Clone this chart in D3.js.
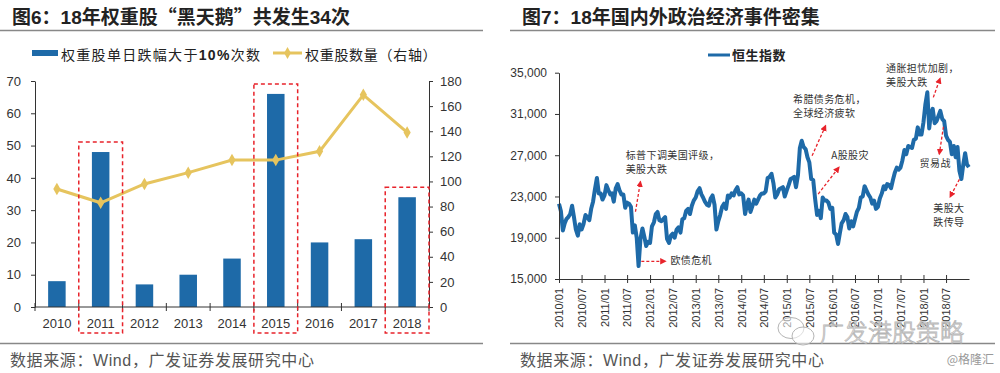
<!DOCTYPE html>
<html>
<head>
<meta charset="utf-8">
<script src="https://cdn.jsdelivr.net/npm/d3@7"></script>
<style>
  body { margin: 0; background: #fff; }
  svg { display: block; font-family: "Liberation Sans", "Noto Sans CJK SC", sans-serif; }
  .cjk { font-family: "Noto Sans CJK SC", sans-serif; }
</style>
</head>
<body>
<svg id="chart" width="1000" height="373"></svg>
<script>
// 图6 data
var years = ["2010", "2011", "2012", "2013", "2014", "2015", "2016", "2017", "2018"];
var bigDrops = [8, 48, 7, 10, 15, 66, 20, 21, 34];          // 权重股单日跌幅大于10%次数
var stockCount = [94, 83, 98, 107, 117, 117, 124, 169, 139]; // 权重股数量（右轴）
var boxedYears = ["2011", "2015", "2018"];
var leftTicks = [0, 10, 20, 30, 40, 50, 60, 70];
var rightTicks = [0, 20, 40, 60, 80, 100, 120, 140, 160, 180];

// 图7 data: 恒生指数, values on the 1st and 16th of every month
var hsiYears = [2010, 2011, 2012, 2013, 2014, 2015, 2016, 2017, 2018];
var hsi2010 = [22300, 21600, 19700, 20400, 20800, 21000, 21300, 22100, 21000, 19800, 19200, 20300,
               19800, 20300, 21200, 21000, 20700, 21800, 22500, 23700, 24800, 23300, 23300, 22700];
var hsi2011 = [23100, 24100, 23600, 23200, 23300, 22500, 23800, 24200, 23600, 23200, 23200, 21900,
               22400, 22300, 22000, 19500, 20200, 19000, 16250, 18900, 19900, 19100, 18200, 18600];
var hsi2012 = [18500, 20100, 20500, 21300, 21500, 20700, 20600, 20800, 21000, 18900, 18500, 19200,
               19400, 19000, 19800, 20000, 19500, 20800, 20900, 21600, 21800, 21300, 22100, 22600];
var hsi2013 = [22900, 23500, 23800, 23200, 22900, 22500, 22200, 22100, 22800, 23100, 22200, 19800,
               20600, 21200, 22000, 22300, 21800, 23100, 22900, 23300, 23100, 23600, 23900, 23200];
var hsi2014 = [23300, 23100, 21300, 22200, 22700, 21500, 22100, 22700, 22300, 22700, 23100, 23300,
               23300, 23500, 24800, 24900, 25200, 24300, 22900, 23200, 23700, 23800, 23900, 23000];
var hsi2015 = [23600, 24100, 24700, 24800, 24900, 23900, 25100, 27700, 28400, 27800, 27600, 26800,
               26300, 24700, 24600, 22800, 21200, 21600, 20900, 22900, 22600, 22600, 22400, 21800];
var hsi2016 = [21900, 19500, 19300, 18400, 19400, 20400, 20700, 21300, 21000, 19900, 20600, 20100,
               20800, 21500, 21900, 22900, 23000, 24000, 23600, 23200, 22900, 22300, 22600, 21800];
var hsi2017 = [22000, 22800, 23300, 24000, 23700, 24200, 24100, 23800, 24600, 25300, 25800, 25600,
               25800, 26500, 27500, 27100, 27900, 27800, 27700, 28500, 28600, 29700, 29000, 29000];
var hsi2018 = [30200, 31900, 33100, 29600, 31000, 31500, 30100, 30300, 30800, 31300, 30500, 30300,
               28900, 28500, 28300, 27100, 27900, 26800, 27800, 25500, 24700, 26100, 27200, 26100];
var hsiByYear = [hsi2010, hsi2011, hsi2012, hsi2013, hsi2014, hsi2015, hsi2016, hsi2017, hsi2018];
var hsiLastDate = "2018-12-31", hsiLast = 25845;
var hsiTicks = [15000, 19000, 23000, 27000, 31000, 35000];

// 图7 notes: text lines, text anchor, arrow start, arrow end (date, index level)
var noteTexts = [["标普下调美国评级，", "美股大跌"], ["欧债危机"], ["希腊债务危机，", "全球经济疲软"],
                 ["A股股灾"], ["通胀担忧加剧，", "美股大跌"], ["贸易战"], ["美股大", "跌传导"]];
var noteAt = [["2011-06-20", 26630], ["2012-06-12", 16450], ["2015-02-20", 32025], ["2015-12-23", 26630],
              ["2017-03-07", 35030], ["2017-12-01", 25824], ["2018-03-21", 21520]];
var arrowFrom = [["2011-09-06", 21520], ["2011-10-23", 16715], ["2015-07-23", 26950], ["2015-09-10", 23236],
                 ["2018-03-21", 32607], ["2018-06-10", 29758], ["2018-10-16", 24660]];
var arrowTo = [["2011-10-16", 24430], ["2012-05-03", 16715], ["2015-11-08", 29855], ["2016-02-23", 25824],
               ["2018-05-14", 34448], ["2018-05-08", 27112], ["2018-08-03", 22975]];

var blue = "#1e6aa8", gold = "#e6c45e", red = "#e8232b";
var svg = d3.select("#chart");
var parseDay = d3.timeParse("%Y-%m-%d");

svg.append("defs").append("marker")
    .attr("id", "arrow")
    .attr("viewBox", "0 0 10 10")
    .attr("refX", 8).attr("refY", 5)
    .attr("markerWidth", 5).attr("markerHeight", 5)
    .attr("orient", "auto")
  .append("path")
    .attr("d", "M0,0L10,5L0,10Z")
    .attr("fill", red);

// titles, rules and sources for both panels
function frame(x0, x1, tx, titleParts) {
  var t = svg.append("text")
      .attr("x", tx).attr("y", 24)
      .attr("font-size", 19).attr("font-weight", "bold").attr("fill", "#222");
  titleParts.forEach(function(p) {
    t.append("tspan").attr("class", p[1] ? null : "cjk").text(p[0]);
  });
  svg.append("line").attr("x1", x0).attr("x2", x1).attr("y1", 30.5).attr("y2", 30.5)
      .attr("stroke", "#888").attr("stroke-width", 1.5);
  svg.append("line").attr("x1", x0).attr("x2", x1).attr("y1", 343.5).attr("y2", 343.5)
      .attr("stroke", "#888").attr("stroke-width", 1.5);
  var s = svg.append("text").attr("x", tx - 2).attr("y", 366)
      .attr("font-size", 16).attr("fill", "#555").attr("letter-spacing", 0.6);
  s.append("tspan").attr("class", "cjk").text("数据来源：");
  s.append("tspan").text("Wind");
  s.append("tspan").attr("class", "cjk").text("，广发证券发展研究中心");
}
frame(0, 483, 12, [["图", 0], ["6", 1], ["：", 0], ["18", 1], ["年权重股“黑天鹅”共发生", 0], ["34", 1], ["次", 0]]);
frame(510, 995, 522, [["图", 0], ["7", 1], ["：", 0], ["18", 1], ["年国内外政治经济事件密集", 0]]);

// ---------- 图6 ----------
var xL = d3.scaleBand().domain(years).range([35, 429]).paddingInner(0.6).paddingOuter(0.3);
var yL = d3.scaleLinear().domain([0, 70]).range([307, 81]);
var yR = d3.scaleLinear().domain([0, 180]).range([307, 81]);
var step = xL.step(), bw = xL.bandwidth();

var left = svg.append("g");

left.selectAll("rect.bar")
    .data(years)
    .enter().append("rect")
      .attr("class", "bar")
      .attr("x", function(d) { return xL(d); })
      .attr("width", bw)
      .attr("y", function(d, i) { return yL(bigDrops[i]); })
      .attr("height", function(d, i) { return yL(0) - yL(bigDrops[i]); })
      .attr("fill", blue);

var line6 = d3.line()
    .x(function(d, i) { return xL(years[i]) + bw / 2; })
    .y(function(d) { return yR(d); });
left.append("path")
    .attr("d", line6(stockCount))
    .attr("fill", "none").attr("stroke", gold).attr("stroke-width", 3);
left.selectAll("path.dot")
    .data(stockCount)
    .enter().append("path")
      .attr("class", "dot")
      .attr("d", d3.symbol(d3.symbolDiamond, 45))
      .attr("transform", function(d, i) { return "translate(" + (xL(years[i]) + bw / 2) + "," + yR(d) + ")"; })
      .attr("fill", gold);

// y axes
var axL = left.append("g").attr("transform", "translate(35,0)")
    .call(d3.axisLeft(yL).tickValues(leftTicks).tickSize(4).tickSizeOuter(0).tickPadding(10));
var axR = left.append("g").attr("transform", "translate(429,0)")
    .call(d3.axisRight(yR).tickValues(rightTicks).tickSize(4).tickSizeOuter(0).tickPadding(7));
[axL, axR].forEach(function(a) {
  a.select(".domain").attr("stroke", "#333");
  a.selectAll(".tick line").attr("stroke", "#333");
  a.selectAll("text").attr("font-size", 13).attr("fill", "#333").attr("font-family", "Liberation Sans");
});

// x axis with crossing ticks on the category edges
var axB = left.append("g").attr("transform", "translate(0,307)")
    .call(d3.axisBottom(xL).tickSize(0).tickPadding(12));
axB.select(".domain").remove();
axB.selectAll("text").attr("font-size", 13).attr("fill", "#333").attr("font-family", "Liberation Sans");
left.append("line").attr("x1", 35).attr("x2", 429).attr("y1", 307).attr("y2", 307).attr("stroke", "#333");
left.selectAll("line.edge")
    .data(years.concat(["end"]))
    .enter().append("line")
      .attr("class", "edge")
      .attr("x1", function(d, i) { return xL(years[0]) + bw / 2 - step / 2 + i * step; })
      .attr("x2", function(d, i) { return xL(years[0]) + bw / 2 - step / 2 + i * step; })
      .attr("y1", 303).attr("y2", 311)
      .attr("stroke", "#333");

// red dashed boxes
left.selectAll("rect.box")
    .data(boxedYears)
    .enter().append("rect")
      .attr("class", "box")
      .attr("x", function(d) { return xL(d) + bw / 2 - step / 2; })
      .attr("width", step)
      .attr("y", function(d) { return yL(bigDrops[years.indexOf(d)]) - 10; })
      .attr("height", function(d) { return 333 - yL(bigDrops[years.indexOf(d)]) + 10; })
      .attr("fill", "none").attr("stroke", red).attr("stroke-width", 1.5)
      .attr("stroke-dasharray", "4,3");

// legend
left.append("rect").attr("x", 32).attr("y", 50).attr("width", 26).attr("height", 6).attr("fill", blue);
var lg1 = left.append("text").attr("x", 61).attr("y", 60).attr("font-size", 14).attr("fill", "#222")
    .attr("letter-spacing", 1.3);
lg1.append("tspan").attr("class", "cjk").text("权重股单日跌幅大于");
lg1.append("tspan").attr("font-weight", "bold").text("10%");
lg1.append("tspan").attr("class", "cjk").text("次数");
left.append("line").attr("x1", 273).attr("x2", 302).attr("y1", 53).attr("y2", 53)
    .attr("stroke", gold).attr("stroke-width", 3);
left.append("path").attr("d", d3.symbol(d3.symbolDiamond, 40))
    .attr("transform", "translate(287.5,53)").attr("fill", gold);
left.append("text").attr("class", "cjk").attr("x", 305).attr("y", 60).attr("font-size", 14)
    .attr("fill", "#222").attr("letter-spacing", 0.7).text("权重股数量（右轴）");

// ---------- 图7 ----------
var hsi = [];
hsiYears.forEach(function(yr, k) {
  hsiByYear[k].forEach(function(v, i) {
    hsi.push({ date: new Date(yr, Math.floor(i / 2), i % 2 ? 16 : 1), value: v });
  });
});
hsi.push({ date: parseDay(hsiLastDate), value: hsiLast });

var xT = d3.scaleTime().domain([new Date(2010, 0, 1), new Date(2019, 0, 1)]).range([559, 969]);
var yH = d3.scaleLinear().domain([15000, 35000]).range([279, 72.7]);

var right = svg.append("g");

right.append("path")
    .datum(hsi)
    .attr("d", d3.line().x(function(d) { return xT(d.date); }).y(function(d) { return yH(d.value); }))
    .attr("fill", "none").attr("stroke", blue).attr("stroke-width", 4).attr("stroke-linejoin", "round");

var axH = right.append("g").attr("transform", "translate(559,0)")
    .call(d3.axisLeft(yH).tickValues(hsiTicks).tickFormat(d3.format(",")).tickSize(4).tickSizeOuter(0).tickPadding(8));
axH.selectAll("text").attr("font-size", 12).attr("fill", "#333").attr("font-family", "Liberation Sans");

var monthTicks = d3.timeMonth.range(new Date(2010, 0, 1), new Date(2019, 0, 1), 6);
var axT = right.append("g").attr("transform", "translate(0,279)")
    .call(d3.axisBottom(xT).tickValues(monthTicks).tickFormat(d3.timeFormat("%Y/%m")).tickSizeOuter(0));
axT.selectAll(".tick line").attr("y1", -4).attr("y2", 4);
axT.selectAll("text")
    .attr("font-size", 11).attr("fill", "#333").attr("font-family", "Liberation Sans")
    .attr("text-anchor", "end")
    .attr("transform", "rotate(-90)")
    .attr("x", -9).attr("y", 0).attr("dy", "0.35em");
[axH, axT].forEach(function(a) {
  a.select(".domain").attr("stroke", "#333");
  a.selectAll(".tick line").attr("stroke", "#333");
});

// legend
right.append("line").attr("x1", 708).attr("x2", 730).attr("y1", 55).attr("y2", 55)
    .attr("stroke", blue).attr("stroke-width", 3);
right.append("text").attr("class", "cjk").attr("x", 732).attr("y", 60).attr("font-size", 13)
    .attr("font-weight", "bold").attr("fill", "#222").attr("letter-spacing", 0.5).text("恒生指数");

// event notes
noteTexts.forEach(function(lines, i) {
  var t = right.append("text")
      .attr("x", xT(parseDay(noteAt[i][0])))
      .attr("y", yH(noteAt[i][1]))
      .attr("dy", "0.35em")
      .attr("font-size", 10).attr("fill", "#333").attr("letter-spacing", 0.4)
      .attr("class", "cjk");
  lines.forEach(function(s, j) {
    t.append("tspan").attr("x", xT(parseDay(noteAt[i][0]))).attr("dy", j ? 14 : 0).text(s);
  });
  right.append("line")
      .attr("x1", xT(parseDay(arrowFrom[i][0]))).attr("y1", yH(arrowFrom[i][1]))
      .attr("x2", xT(parseDay(arrowTo[i][0]))).attr("y2", yH(arrowTo[i][1]))
      .attr("stroke", red).attr("stroke-width", 1.3).attr("stroke-dasharray", "3,2")
      .attr("marker-end", "url(#arrow)");
});

// watermark
var wm = svg.append("g").attr("fill", "rgba(255,255,255,0.55)").attr("stroke", "#b5b5b5").attr("stroke-width", 1);
wm.append("ellipse").attr("cx", 791).attr("cy", 328).attr("rx", 13).attr("ry", 10.5);
wm.append("ellipse").attr("cx", 803).attr("cy", 336).attr("rx", 11).attr("ry", 9);
wm.append("text").attr("class", "cjk").attr("x", 820).attr("y", 341).attr("font-size", 24)
    .attr("font-weight", 300).attr("stroke-width", 0.8).text("广发港股策略");
svg.append("text").attr("class", "cjk").attr("x", 994).attr("y", 364).attr("text-anchor", "end")
    .attr("font-size", 12).attr("fill", "#999").text("@格隆汇");
</script>
</body>
</html>
